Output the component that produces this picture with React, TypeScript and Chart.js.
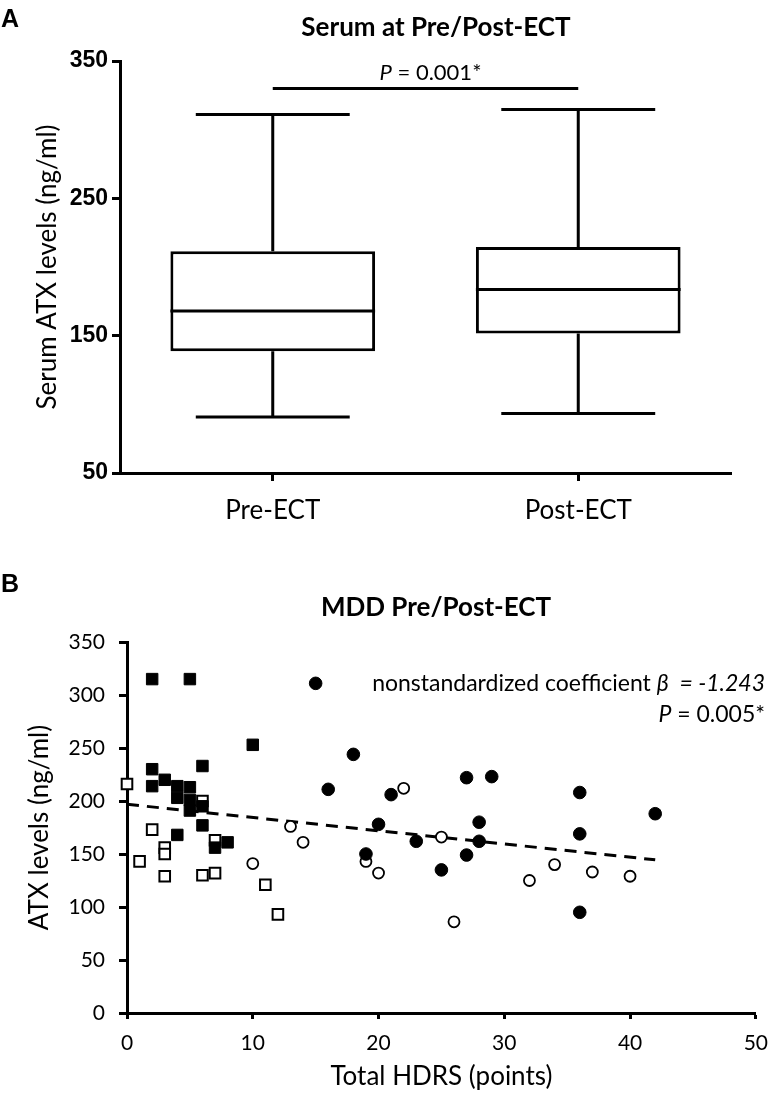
import React, { useEffect, useRef } from 'react';
import { Chart, registerables } from 'chart.js';

Chart.register(...registerables);

// ---------- Panel A: box plot data ----------
const boxCategories = ['Pre-ECT', 'Post-ECT'];
const boxWhiskerLow = [90.7, 93.4];
const boxQ1 = [138.7, 151.6];
const boxMedian = [168.0, 183.6];
const boxQ3 = [211.5, 214.6];
const boxWhiskerHigh = [311.0, 314.7];
const boxYMin = 50;
const boxYMax = 350;
const boxYStep = 100;
const sigLevel = 330;
const sigText = ' = 0.001*';
const titleA = 'Serum at Pre/Post-ECT';

// ---------- Panel B: scatter data ----------
const filledSquareX = [2, 5, 10, 2, 6, 2, 3, 4, 5, 4, 5, 5, 6, 6, 4, 7, 8];
const filledSquareY = [315, 315, 253, 230, 233, 214, 220, 214, 213, 203, 201, 191, 195, 177, 168, 156, 161];
const openSquareX = [0, 1, 2, 3, 3, 3, 6, 6, 7, 7, 11, 12];
const openSquareY = [216, 143, 173, 156, 150, 129, 200, 130, 163, 132, 121, 93];
const filledCircleX = [15, 18, 16, 21, 20, 23, 19, 27, 29, 36, 42, 28, 28, 36, 27, 25, 36];
const filledCircleY = [311, 244, 211, 206, 178, 162, 150, 222, 223, 208, 188, 180, 162, 169, 149, 135, 95];
const openCircleX = [10, 13, 14, 19, 20, 22, 25, 26, 32, 34, 37, 40];
const openCircleY = [141, 176, 161, 143, 132, 212, 166, 86, 125, 140, 133, 129];
const regressionX = [0, 42];
const regressionY = [196.9, 144.5];
const scatterXMin = 0;
const scatterXMax = 50;
const scatterXStep = 10;
const scatterYMin = 0;
const scatterYMax = 350;
const scatterYStep = 50;
const titleB = 'MDD Pre/Post-ECT';

const toPoints = (xs: number[], ys: number[]) => xs.map((x, i) => ({ x, y: ys[i] }));

const LATO = 'Lato, "Open Sans", sans-serif';
const ARIAL = '"Liberation Sans", Arial, sans-serif';

const boxPlugin = {
  id: 'boxWhiskers',
  afterDatasetsDraw(chart: any) {
    const { ctx, scales } = chart;
    const x = scales.x;
    const y = scales.y;
    const meta = chart.getDatasetMeta(0);
    ctx.save();
    ctx.strokeStyle = '#000';
    ctx.lineWidth = 3;
    ctx.lineCap = 'butt';
    meta.data.forEach((bar: any, i: number) => {
      const p = bar.getProps(['x', 'width'], true);
      const cx = p.x;
      const half = p.width / 2;
      const cap = p.width * 0.376;
      const yMed = y.getPixelForValue(boxMedian[i]);
      const yQ1 = y.getPixelForValue(boxQ1[i]);
      const yQ3 = y.getPixelForValue(boxQ3[i]);
      const yLo = y.getPixelForValue(boxWhiskerLow[i]);
      const yHi = y.getPixelForValue(boxWhiskerHigh[i]);
      ctx.beginPath();
      ctx.moveTo(cx - half, yMed);
      ctx.lineTo(cx + half, yMed);
      ctx.moveTo(cx, yQ3);
      ctx.lineTo(cx, yHi);
      ctx.moveTo(cx - cap, yHi);
      ctx.lineTo(cx + cap, yHi);
      ctx.moveTo(cx, yQ1);
      ctx.lineTo(cx, yLo);
      ctx.moveTo(cx - cap, yLo);
      ctx.lineTo(cx + cap, yLo);
      ctx.stroke();
    });
    // significance bar
    const x0 = x.getPixelForValue(0);
    const x1 = x.getPixelForValue(1);
    const ys = y.getPixelForValue(sigLevel);
    ctx.beginPath();
    ctx.moveTo(x0, ys);
    ctx.lineTo(x1, ys);
    ctx.stroke();
    ctx.fillStyle = '#000';
    ctx.textBaseline = 'alphabetic';
    ctx.font = `italic 22px ${LATO}`;
    const wP = ctx.measureText('P').width;
    ctx.font = `22px ${LATO}`;
    const wR = ctx.measureText(sigText).width;
    const start = (x0 + x1) / 2 + 5 - (wP + wR) / 2;
    ctx.font = `italic 22px ${LATO}`;
    ctx.textAlign = 'left';
    ctx.fillText('P', start, ys - 8);
    ctx.font = `22px ${LATO}`;
    ctx.fillText(sigText, start + wP, ys - 8);
    // title
    ctx.font = `bold 26px ${LATO}`;
    ctx.textAlign = 'center';
    ctx.fillText(titleA, 436, 36);
    // panel letter
    ctx.textAlign = 'left';
    ctx.font = `bold 25px ${ARIAL}`;
    ctx.fillText('A', 1, 27);
    ctx.restore();
  },
};

const scatterPlugin = {
  id: 'scatterNotes',
  afterDraw(chart: any) {
    const { ctx } = chart;
    ctx.save();
    ctx.fillStyle = '#000';
    ctx.textBaseline = 'alphabetic';
    ctx.textAlign = 'left';
    const right = 765;
    const fs = 23;
    const line1Regular = 'nonstandardized coefficient ';
    const line1Italic = '\u03B2  = -1.243';
    ctx.font = `italic ${fs}px ${LATO}`;
    const wI = ctx.measureText(line1Italic).width;
    ctx.font = `${fs}px ${LATO}`;
    const wR = ctx.measureText(line1Regular).width;
    ctx.fillText(line1Regular, right - wI - wR, 146);
    ctx.font = `italic ${fs}px ${LATO}`;
    ctx.fillText(line1Italic, right - wI, 146);
    const line2Regular = ' = 0.005*';
    ctx.font = `${fs}px ${LATO}`;
    const w2 = ctx.measureText(line2Regular).width;
    ctx.font = `italic ${fs}px ${LATO}`;
    const wP = ctx.measureText('P').width;
    ctx.fillText('P', right - w2 - wP, 177);
    ctx.font = `${fs}px ${LATO}`;
    ctx.fillText(line2Regular, right - w2, 177);
    // title
    ctx.font = `bold 26px ${LATO}`;
    ctx.textAlign = 'center';
    ctx.fillText(titleB, 436, 71);
    // panel letter
    ctx.textAlign = 'left';
    ctx.font = `bold 25px ${ARIAL}`;
    ctx.fillText('B', 1, 47);
    ctx.restore();
  },
};

export default function App() {
  const refA = useRef<HTMLCanvasElement | null>(null);
  const refB = useRef<HTMLCanvasElement | null>(null);

  useEffect(() => {
    Chart.defaults.color = '#000';
    const chartA = new Chart(refA.current as HTMLCanvasElement, {
      type: 'bar',
      data: {
        labels: boxCategories,
        datasets: [
          {
            label: 'Serum ATX',
            data: boxCategories.map((_, i) => [boxQ1[i], boxQ3[i]]) as any,
            backgroundColor: '#fff',
            borderColor: '#000',
            borderWidth: 3,
            borderSkipped: false,
            barPercentage: 0.67,
            categoryPercentage: 1,
          },
        ],
      },
      options: {
        responsive: false,
        animation: false,
        layout: { padding: { left: 0, right: 49, top: 61, bottom: 0 } },
        plugins: {
          legend: { display: false },
          tooltip: { enabled: false },
          title: { display: false },
        },
        scales: {
          x: {
            offset: true,
            grid: { display: true, drawOnChartArea: false, offset: false, tickLength: 8, tickWidth: 3, tickColor: '#000' },
            border: { display: true, width: 3, color: '#000' },
            ticks: { color: '#000', font: { family: LATO, size: 26 }, padding: 14 },
            afterFit: (s: any) => { s.height = 72; },
          },
          y: {
            min: boxYMin,
            max: boxYMax,
            ticks: { stepSize: boxYStep, color: '#000', font: { family: ARIAL, size: 23, weight: 'bold' }, padding: 4 },
            grid: { display: true, drawOnChartArea: false, tickLength: 8, tickWidth: 3, tickColor: '#000' },
            border: { display: true, width: 3, color: '#000' },
            title: {
              display: true,
              text: 'Serum ATX levels (ng/ml)',
              color: '#000',
              font: { family: LATO, size: 26 },
              padding: { top: 32, bottom: 0 },
            },
            afterFit: (s: any) => { s.width = 120; },
          },
        },
      } as any,
      plugins: [boxPlugin],
    });

    const chartB = new Chart(refB.current as HTMLCanvasElement, {
      type: 'scatter',
      data: {
        datasets: [
          {
            label: 'Filled squares',
            data: toPoints(filledSquareX, filledSquareY),
            pointStyle: 'rect',
            pointRadius: 8.1,
            backgroundColor: '#000',
            borderColor: '#000',
            borderWidth: 1,
            clip: false,
          },
          {
            label: 'Filled circles',
            data: toPoints(filledCircleX, filledCircleY),
            pointStyle: 'circle',
            pointRadius: 6.3,
            backgroundColor: '#000',
            borderColor: '#000',
            borderWidth: 1,
            clip: false,
          },
          {
            label: 'Open squares',
            data: toPoints(openSquareX, openSquareY),
            pointStyle: 'rect',
            pointRadius: 7.5,
            backgroundColor: '#fff',
            borderColor: '#000',
            borderWidth: 2,
            clip: false,
          },
          {
            label: 'Open circles',
            data: toPoints(openCircleX, openCircleY),
            pointStyle: 'circle',
            pointRadius: 5.5,
            backgroundColor: '#fff',
            borderColor: '#000',
            borderWidth: 1.8,
            clip: false,
          },
          {
            type: 'line',
            label: 'Regression',
            data: toPoints(regressionX, regressionY),
            borderColor: '#000',
            borderWidth: 3,
            borderDash: [12, 8],
            pointRadius: 0,
            fill: false,
            showLine: true,
          } as any,
        ],
      },
      options: {
        responsive: false,
        animation: false,
        layout: { padding: { left: 0, right: 13, top: 97, bottom: 0 } },
        plugins: {
          legend: { display: false },
          tooltip: { enabled: false },
          title: { display: false },
        },
        scales: {
          x: {
            type: 'linear',
            min: scatterXMin,
            max: scatterXMax,
            ticks: { stepSize: scatterXStep, color: '#000', font: { family: LATO, size: 21 }, padding: 12 },
            grid: { display: true, drawOnChartArea: false, tickLength: 6, tickWidth: 3, tickColor: '#000' },
            border: { display: true, width: 3, color: '#000' },
            title: {
              display: true,
              text: 'Total HDRS (points)',
              color: '#000',
              font: { family: LATO, size: 26 },
              padding: { top: 0, bottom: 2 },
            },
            afterFit: (s: any) => { s.height = 81; },
          },
          y: {
            min: scatterYMin,
            max: scatterYMax,
            ticks: { stepSize: scatterYStep, color: '#000', font: { family: LATO, size: 21 }, padding: 14 },
            grid: { display: true, drawOnChartArea: false, tickLength: 8, tickWidth: 3, tickColor: '#000' },
            border: { display: true, width: 3, color: '#000' },
            title: {
              display: true,
              text: 'ATX levels (ng/ml)',
              color: '#000',
              font: { family: LATO, size: 26 },
              padding: { top: 24, bottom: 0 },
            },
            afterFit: (s: any) => { s.width = 127; },
          },
        },
      } as any,
      plugins: [scatterPlugin],
    });

    return () => {
      chartA.destroy();
      chartB.destroy();
    };
  }, []);

  return (
    <div style={{ position: 'absolute', left: 0, top: 0, width: 780, height: 1094, background: '#fff' }}>
      <canvas ref={refA} width={780} height={545} style={{ display: 'block', width: 780, height: 545 }} />
      <canvas ref={refB} width={780} height={549} style={{ display: 'block', width: 780, height: 549 }} />
    </div>
  );
}
